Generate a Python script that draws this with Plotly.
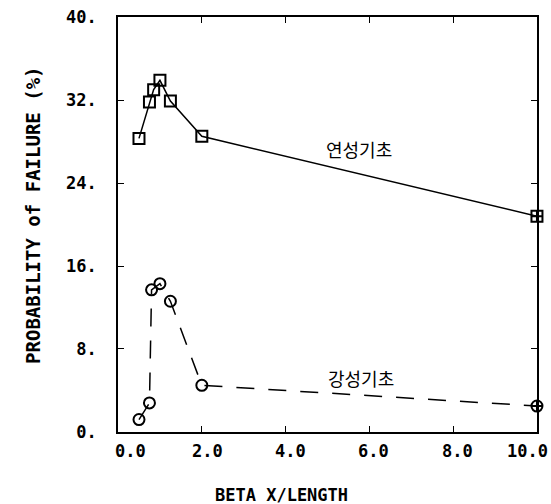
import plotly.graph_objects as go

# Data
ductile_x = [0.5, 0.75, 0.85, 1.0, 1.25, 2.0, 10.0]
ductile_y = [28.3, 31.8, 33.0, 33.9, 31.9, 28.5, 20.8]
rigid_x = [0.5, 0.75, 0.8, 1.0, 1.25, 2.0, 10.0]
rigid_y = [1.2, 2.8, 13.7, 14.3, 12.6, 4.5, 2.5]

ductile_label = "연성기초"
rigid_label = "강성기초"

x_ticks = [0, 2, 4, 6, 8, 10]
x_ticktext = ["0.0", "2.0", "4.0", "6.0", "8.0", "10.0"]
y_ticks = [0, 8, 16, 24, 32, 40]
y_ticktext = ["0.", "8.", "16.", "24.", "32.", "40."]

# pixel offsets of x tick labels as placed in the reference (style only)
x_label_shift = [12, 6, 5, 4, 4, -9]

FONT = "DejaVu Sans Mono"
KFONT = "Noto Sans CJK KR"

fig = go.Figure()
fig.add_trace(go.Scatter(
    x=ductile_x, y=ductile_y, mode="lines+markers",
    line=dict(color="black", width=1.5),
    marker=dict(symbol=["square-open"] * 6 + ["square-cross-open"], size=11,
                color="black", line=dict(width=2, color="black")),
    cliponaxis=False, showlegend=False))
fig.add_trace(go.Scatter(
    x=rigid_x, y=rigid_y, mode="lines+markers",
    line=dict(color="black", width=1.5, dash="18px,14px"),
    marker=dict(symbol=["circle-open"] * 6 + ["circle-cross-open"], size=11,
                color="black", line=dict(width=2, color="black")),
    cliponaxis=False, showlegend=False))

fig.add_annotation(x=5.76, y=27.3, text=ductile_label, showarrow=False,
                   xanchor="center", yanchor="middle",
                   font=dict(family=KFONT, size=18, color="black"))
fig.add_annotation(x=5.79, y=5.2, text=rigid_label, showarrow=False,
                   xanchor="center", yanchor="middle",
                   font=dict(family=KFONT, size=18, color="black"))

# x tick labels (real text, placed at the tick values)
for v, t, s in zip(x_ticks, x_ticktext, x_label_shift):
    fig.add_annotation(x=v, xref="x", y=-0.0458, yref="paper", text=t,
                       showarrow=False, xanchor="center", yanchor="middle", xshift=s,
                       font=dict(family=FONT, size=17, color="black", weight="bold"))

fig.add_annotation(xref="paper", yref="paper", x=-0.203, y=0.523,
                   xanchor="center", yanchor="middle",
                   text="PROBABILITY of FAILURE (%)", textangle=-90, showarrow=False,
                   font=dict(family=FONT, size=19, color="black", weight="bold"))
fig.add_annotation(xref="paper", yref="paper", x=0.391, y=-0.152,
                   xanchor="center", yanchor="middle",
                   text="BETA X/LENGTH", showarrow=False,
                   font=dict(family=FONT, size=17, color="black", weight="bold"))

axis_common = dict(showgrid=False, zeroline=False, showline=True, linecolor="black",
                   linewidth=1.8, mirror="ticks", ticks="inside", ticklen=6,
                   tickwidth=1.3, tickcolor="black", automargin=False,
                   tickfont=dict(family=FONT, size=17, color="black", weight="bold"))

fig.update_xaxes(range=[-0.001, 10.001], tickvals=x_ticks, showticklabels=False,
                 **axis_common)
fig.update_yaxes(range=[-0.001, 40.001], tickvals=y_ticks, ticktext=y_ticktext,
                 ticklabelstandoff=16, **axis_common)

fig.update_layout(width=551, height=504, autosize=False,
                  margin=dict(l=118, r=14, t=17, b=72, autoexpand=False),
                  paper_bgcolor="white", plot_bgcolor="white",
                  font=dict(family=FONT, color="black"))

fig.write_html("out.html")
